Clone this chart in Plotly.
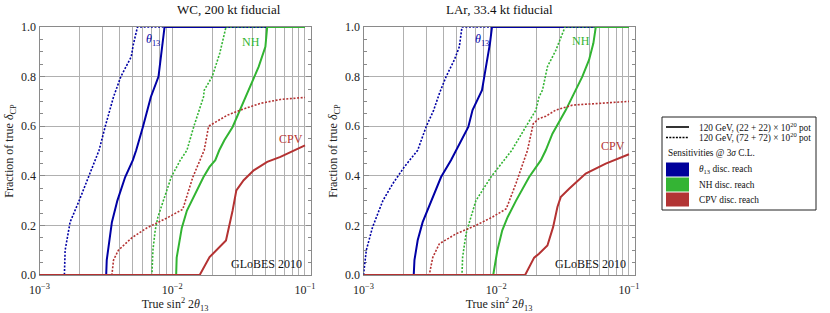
import plotly.graph_objects as go

W, H = 830, 313

# ---------------- data (true sin^2 2theta13 vs fraction of delta_CP) ----------------
# WC, 200 kt fiducial
wc_th13_22_x = [1e-3, 3.18e-3, 3.21e-3, 3.36e-3, 3.51e-3, 3.86e-3, 4.42e-3, 5.05e-3, 5.35e-3, 6.01e-3, 6.90e-3, 7.88e-3, 8.36e-3, 8.75e-3, 0.1]
wc_th13_22_y = [0, 0, 0.06, 0.14, 0.213, 0.30, 0.395, 0.463, 0.503, 0.597, 0.718, 0.80, 0.906, 1.0, 1.0]
wc_th13_72_x = [1e-3, 1.54e-3, 1.56e-3, 1.70e-3, 1.99e-3, 2.34e-3, 2.62e-3, 2.81e-3, 3.12e-3, 3.61e-3, 4.10e-3, 4.91e-3, 5.08e-3, 5.47e-3, 0.1]
wc_th13_72_y = [0, 0, 0.10, 0.213, 0.30, 0.395, 0.463, 0.503, 0.597, 0.718, 0.80, 0.88, 0.927, 1.0, 1.0]
wc_nh_22_x = [1e-3, 1.07e-2, 1.08e-2, 1.18e-2, 1.29e-2, 1.49e-2, 1.72e-2, 1.91e-2, 2.11e-2, 2.26e-2, 2.47e-2, 2.85e-2, 3.56e-2, 4.48e-2, 5.03e-2, 5.19e-2, 0.1]
wc_nh_22_y = [0, 0, 0.07, 0.19, 0.26, 0.33, 0.395, 0.436, 0.463, 0.503, 0.543, 0.597, 0.718, 0.84, 0.92, 1.0, 1.0]
wc_nh_72_x = [1e-3, 7.03e-3, 7.15e-3, 7.44e-3, 7.80e-3, 8.60e-3, 9.83e-3, 1.15e-2, 1.29e-2, 1.45e-2, 1.72e-2, 1.74e-2, 2.0e-2, 2.28e-2, 2.54e-2, 0.1]
wc_nh_72_y = [0, 0, 0.10, 0.18, 0.234, 0.30, 0.395, 0.463, 0.503, 0.597, 0.718, 0.745, 0.80, 0.894, 1.0, 1.0]
wc_cpv_22_x = [1e-3, 1.61e-2, 1.91e-2, 2.54e-2, 2.85e-2, 3.04e-2, 3.45e-2, 4.11e-2, 5.19e-2, 6.53e-2, 0.1]
wc_cpv_22_y = [0, 0, 0.072, 0.139, 0.26, 0.341, 0.382, 0.422, 0.456, 0.476, 0.523]
wc_cpv_72_x = [1e-3, 3.51e-3, 3.61e-3, 3.93e-3, 4.96e-3, 6.44e-3, 9.12e-3, 1.20e-2, 1.43e-2, 1.74e-2, 1.88e-2, 2.59e-2, 3.26e-2, 4.61e-2, 6.53e-2, 0.1]
wc_cpv_72_y = [0, 0, 0.06, 0.10, 0.15, 0.19, 0.23, 0.265, 0.395, 0.503, 0.60, 0.644, 0.665, 0.692, 0.708, 0.716]

# LAr, 33.4 kt fiducial
lar_th13_22_x = [1e-3, 2.39e-3, 2.42e-3, 2.56e-3, 2.79e-3, 3.23e-3, 3.84e-3, 4.56e-3, 4.98e-3, 6.16e-3, 6.63e-3, 7.81e-3, 8.37e-3, 8.97e-3, 9.29e-3, 0.1]
lar_th13_22_y = [0, 0, 0.06, 0.14, 0.213, 0.30, 0.395, 0.463, 0.503, 0.597, 0.665, 0.745, 0.84, 0.934, 1.0, 1.0]
lar_th13_72_x = [1.0e-3, 1.05e-3, 1.17e-3, 1.40e-3, 1.66e-3, 2.03e-3, 2.56e-3, 2.71e-3, 2.96e-3, 3.38e-3, 3.73e-3, 4.19e-3, 4.83e-3, 5.27e-3, 5.52e-3, 0.1]
lar_th13_72_y = [0, 0.10, 0.193, 0.30, 0.368, 0.436, 0.503, 0.543, 0.597, 0.665, 0.732, 0.80, 0.867, 0.92, 1.0, 1.0]
lar_nh_22_x = [1e-3, 9.49e-3, 1.02e-2, 1.11e-2, 1.22e-2, 1.41e-2, 1.77e-2, 1.99e-2, 2.17e-2, 2.36e-2, 2.65e-2, 3.34e-2, 3.86e-2, 4.45e-2, 5.00e-2, 5.39e-2, 5.62e-2, 0.1]
lar_nh_22_y = [0, 0, 0.10, 0.18, 0.234, 0.30, 0.395, 0.436, 0.463, 0.503, 0.57, 0.665, 0.735, 0.80, 0.867, 0.934, 1.0, 1.0]
lar_nh_72_x = [1e-3, 5.52e-3, 5.58e-3, 5.92e-3, 6.45e-3, 7.03e-3, 9.12e-3, 1.31e-2, 1.68e-2, 1.99e-2, 2.10e-2, 2.23e-2, 2.43e-2, 2.81e-2, 3.30e-2, 0.1]
lar_nh_72_y = [0, 0, 0.072, 0.166, 0.234, 0.30, 0.395, 0.503, 0.60, 0.665, 0.718, 0.745, 0.84, 0.906, 1.0, 1.0]
lar_cpv_22_x = [1e-3, 1.65e-2, 1.93e-2, 2.10e-2, 2.43e-2, 2.68e-2, 2.89e-2, 3.06e-2, 3.54e-2, 4.72e-2, 6.68e-2, 0.1]
lar_cpv_22_y = [0, 0, 0.07, 0.086, 0.119, 0.193, 0.274, 0.314, 0.348, 0.409, 0.449, 0.487]
lar_cpv_72_x = [1e-3, 3.13e-3, 3.32e-3, 3.73e-3, 4.98e-3, 7.03e-3, 9.38e-3, 1.19e-2, 1.41e-2, 1.72e-2, 1.90e-2, 2.10e-2, 2.36e-2, 2.81e-2, 3.75e-2, 6.68e-2, 0.1]
lar_cpv_72_y = [0, 0, 0.07, 0.126, 0.166, 0.20, 0.234, 0.267, 0.37, 0.503, 0.61, 0.631, 0.64, 0.665, 0.685, 0.695, 0.70]

panel_titles = ["WC, 200 kt fiducial", "LAr, 33.4 kt fiducial"]
y_ticks = [0, 0.2, 0.4, 0.6, 0.8, 1.0]
y_tick_text = ["0.0", "0.2", "0.4", "0.6", "0.8", "1.0"]
x_grid = [m * 10 ** e for e in (-3, -2) for m in range(1, 10)] + [0.1]
x_decades = {1e-3: "10<sup>\u22123</sup>", 1e-2: "10<sup>\u22122</sup>", 1e-1: "10<sup>\u22121</sup>"}
legend_lines = ["120 GeV, (22 + 22) \u00d7 10<sup>20</sup> pot", "120 GeV, (72 + 72) \u00d7 10<sup>20</sup> pot"]
legend_sens = ["<i>\u03b8</i><sub>13</sub> disc. reach", "NH disc. reach", "CPV disc. reach"]

BLUE = "rgb(0,0,165)"
GREEN = "rgb(50,180,50)"
RED = "rgb(180,50,50)"
SWATCH = ["rgb(0,0,155)", "rgb(52,180,52)", "rgb(178,52,52)"]
FONT = "Liberation Serif"
DOT = "2px,1.6px"

fig = go.Figure()

panels = [
    ("x", "y", [(wc_th13_72_x, wc_th13_72_y, BLUE, DOT), (wc_th13_22_x, wc_th13_22_y, BLUE, "solid"),
                (wc_nh_72_x, wc_nh_72_y, GREEN, DOT), (wc_nh_22_x, wc_nh_22_y, GREEN, "solid"),
                (wc_cpv_72_x, wc_cpv_72_y, RED, DOT), (wc_cpv_22_x, wc_cpv_22_y, RED, "solid")]),
    ("x2", "y2", [(lar_th13_72_x, lar_th13_72_y, BLUE, DOT), (lar_th13_22_x, lar_th13_22_y, BLUE, "solid"),
                  (lar_nh_72_x, lar_nh_72_y, GREEN, DOT), (lar_nh_22_x, lar_nh_22_y, GREEN, "solid"),
                  (lar_cpv_72_x, lar_cpv_72_y, RED, DOT), (lar_cpv_22_x, lar_cpv_22_y, RED, "solid")]),
]
for xa, ya, curves in panels:
    for xs, ys, col, dash in curves:
        fig.add_trace(go.Scatter(x=xs, y=ys, xaxis=xa, yaxis=ya, mode="lines", cliponaxis=False,
                                 line=dict(color=col, width=2 if dash == "solid" else 1.6, dash=dash),
                                 showlegend=False, hoverinfo="skip"))

ydom = [1 - 275 / H, 1 - 27 / H]
xdoms = [[39.5 / W, 310.5 / W], [363.5 / W, 634.5 / W]]
xrange_log = [-3, -0.9585]

axis_font = dict(family=FONT, size=12, color="#222")
for i, xd in enumerate(xdoms):
    sx = "" if i == 0 else "2"
    fig.update_layout(**{
        "xaxis" + sx: dict(domain=xd, type="log", range=xrange_log, anchor="y" + sx, automargin=False,
                           tickmode="array", tickvals=x_grid, layer="below traces",
                           ticktext=[x_decades.get(v, "") for v in x_grid],
                           showgrid=True, gridcolor="#b0b0b0", gridwidth=1,
                           showline=True, linecolor="#8a8a8a", linewidth=1, mirror=True,
                           ticks="", ticklen=0, ticklabelstandoff=4, tickfont=axis_font, zeroline=False,
                           title=dict(text="True sin<sup>2</sup> 2<i>\u03b8</i><sub>13</sub>",
                                      font=dict(family=FONT, size=12, color="#222"), standoff=8)),
        "yaxis" + sx: dict(domain=ydom, range=[0, 1], anchor="x" + sx, automargin=False,
                           tickmode="array", tickvals=y_ticks, ticktext=y_tick_text, layer="below traces",
                           showgrid=True, gridcolor="#b0b0b0", gridwidth=1,
                           showline=True, linecolor="#8a8a8a", linewidth=1, mirror="ticks",
                           ticks="inside", ticklen=5, tickcolor="#8a8a8a",
                           minor=dict(dtick=0.05, ticks="inside", ticklen=3, tickcolor="#8a8a8a", showgrid=False),
                           tickfont=axis_font, zeroline=False,
                           title=dict(text="Fraction of true <i>\u03b4</i><sub>CP</sub>",
                                      font=dict(family=FONT, size=12, color="#222"), standoff=4)),
    })

ann = []
for i, t in enumerate(panel_titles):
    ann.append(dict(text=t, x=(xdoms[i][0] + xdoms[i][1]) / 2, y=1 - 9 / H, xref="paper", yref="paper",
                    yanchor="middle", showarrow=False, font=dict(family=FONT, size=13, color="#111")))
# curve labels
labels = [
    ("x", "y", -2.143, 0.947, "<i>\u03b8</i><sub>13</sub>", BLUE),
    ("x", "y", -1.404, 0.94, "NH", GREEN),
    ("x", "y", -1.102, 0.55, "CPV", RED),
    ("x2", "y2", -2.105, 0.947, "<i>\u03b8</i><sub>13</sub>", BLUE),
    ("x2", "y2", -1.361, 0.945, "NH", GREEN),
    ("x2", "y2", -1.12, 0.52, "CPV", RED),
]
for xa, ya, lx, ly, txt, col in labels:
    ann.append(dict(text=txt, x=lx, y=ly, xref=xa, yref=ya, showarrow=False,
                    font=dict(family=FONT, size=12, color=col)))
for xa, ya in (("x", "y"), ("x2", "y2")):
    ann.append(dict(text="GLoBES 2010", x=-1.005, y=0.046, xref=xa, yref=ya, xanchor="right",
                    showarrow=False, font=dict(family=FONT, size=12, color="#111")))

# legend box (drawn manually)
def px(xp):
    return xp / W

def py(yp):
    return 1 - yp / H

shapes = [dict(type="rect", xref="paper", yref="paper", x0=px(662), x1=px(816), y0=py(210), y1=py(117),
               line=dict(color="#222", width=1), fillcolor="white", layer="above")]
leg_rows_y = [127, 137.5]
for k, (ry, dash) in enumerate(zip(leg_rows_y, ["solid", "2px,1.3px"])):
    shapes.append(dict(type="line", xref="paper", yref="paper", x0=px(666), x1=px(689), y0=py(ry), y1=py(ry),
                       line=dict(color="black", width=1.6, dash=dash), layer="above"))
    ann.append(dict(text=legend_lines[k], x=px(697), y=py(ry), xref="paper", yref="paper", xanchor="left",
                    yanchor="middle", showarrow=False, font=dict(family=FONT, size=9.3, color="#111")))
ann.append(dict(text="Sensitivities @ 3<i>\u03c3</i> C.L.", x=px(666), y=py(152.5), xref="paper", yref="paper",
                xanchor="left", yanchor="middle", showarrow=False, font=dict(family=FONT, size=9.3, color="#111")))
sq_top = [162.5, 177.5, 192.5]
for k, top in enumerate(sq_top):
    shapes.append(dict(type="rect", xref="paper", yref="paper", x0=px(666), x1=px(689), y0=py(top + 14), y1=py(top),
                       line=dict(width=0), fillcolor=SWATCH[k], layer="above"))
    ann.append(dict(text=legend_sens[k], x=px(697), y=py(top + 7), xref="paper", yref="paper", xanchor="left",
                    yanchor="middle", showarrow=False, font=dict(family=FONT, size=9.3, color="#111")))

fig.update_layout(width=W, height=H, margin=dict(l=0, r=0, t=0, b=0, autoexpand=False),
                  paper_bgcolor="white", plot_bgcolor="white", showlegend=False,
                  annotations=ann, shapes=shapes, font=dict(family=FONT))

fig.write_html("out.html", config={"displayModeBar": False},
               post_script="document.body.style.margin='0';document.body.style.overflow='hidden';")
